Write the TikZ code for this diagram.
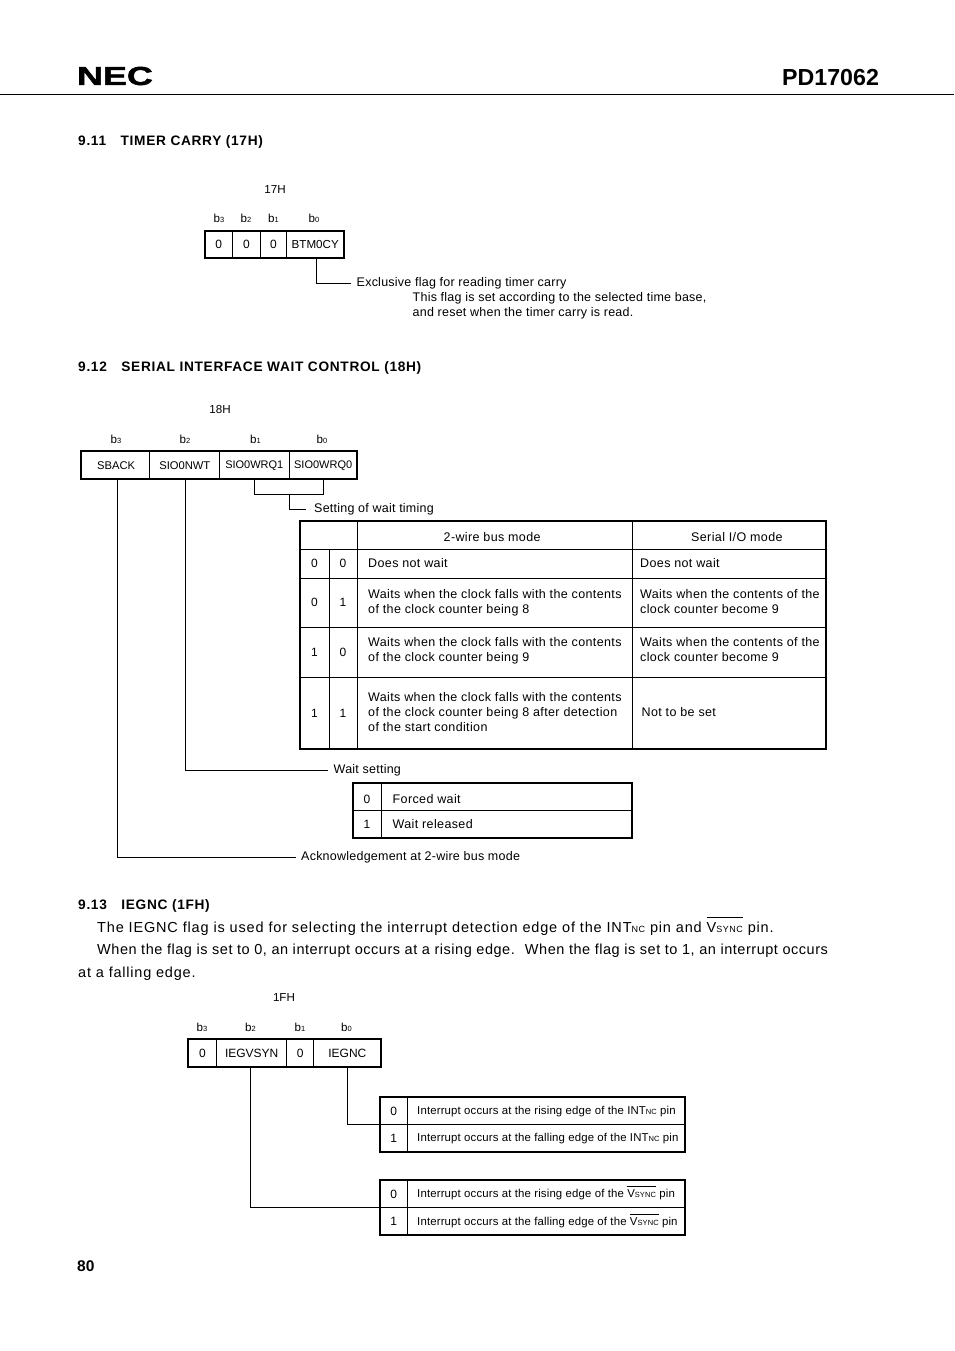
\documentclass[tikz,border=0pt]{standalone}
\usepackage{fontspec}
\setmainfont{Liberation Sans}
\usetikzlibrary{positioning}
\newcommand{\lowtxt}[1]{{\fontsize{7.5}{7.5}\selectfont #1}}
\newcommand{\barred}[2]{$\overline{\mbox{\rule{0pt}{#2}V{\fontsize{#1}{#1}\selectfont SYNC}}}$}
\newcommand{\cellbox}[6][]{\node[cell,#1,minimum width=#4pt-#2pt,minimum height=#5pt-#3pt] (#6) at ({(#2+#4)/2},{(#3+#5)/2})}
\tikzset{
  cell/.style={draw=black,line width=0.8pt,inner sep=0pt,font=\fontsize{12}{15}\selectfont},
  tinyname/.style={font=\fontsize{11}{14}\selectfont},
  midname/.style={font=\fontsize{11.2}{14}\selectfont},
  txt/.style={anchor=west,inner sep=0pt,align=left,font=\fontsize{12.5}{15}\selectfont\addfontfeature{LetterSpace=3}},
  small/.style={anchor=west,inner sep=0pt,text height=9pt,text depth=3pt,font=\fontsize{12.5}{15}\selectfont\addfontfeature{LetterSpace=1.9}},
  irq/.style={anchor=west,inner sep=0pt,text height=9pt,text depth=3pt,font=\fontsize{11.4}{14}\selectfont\addfontfeature{LetterSpace=1.35}},
  bitname/.style={inner sep=0pt,font=\fontsize{11.6}{14}\selectfont},
  head/.style={anchor=west,inner sep=0pt,text height=10pt,text depth=3pt,font=\fontsize{13.7}{15}\selectfont\bfseries\addfontfeature{LetterSpace=5}},
  para/.style={anchor=west,inner sep=0pt,text height=10pt,text depth=3pt,font=\fontsize{14.5}{16}\selectfont\addfontfeature{LetterSpace=5.4}},
  frame/.style={draw=black,line width=2pt},
  wire/.style={draw=black,line width=0.9pt}
}
\begin{document}
\begin{tikzpicture}[x=1pt,y=-1pt]
\useasboundingbox (0,0) rectangle (954,1351);
% page head
\node[inner sep=0pt,xscale=1.38,font=\fontsize{26}{26}\selectfont\bfseries\addfontfeature{FakeBold=1.5}] (logo) at (115,76) {NEC};
\node[anchor=west,inner sep=0pt,font=\fontsize{23.2}{24}\selectfont\bfseries] (part) at (782,77.5) {PD17062};
\coordinate (ruleL) at (0,94.5);
\coordinate (ruleR) at (954,94.5);
\draw[line width=0.9pt] (ruleL) -- (ruleR);
% 9.11
\node[head] (sec1) at (78,142.5) {9.11\hspace{14.5pt}TIMER CARRY (17H)};
\node[bitname] (addr1) at (275,189.5) {17H};
\node[bitname] (b31) at (219,218) {b\lowtxt{3}};
\node[bitname] (b21) at (246,218) {b\lowtxt{2}};
\node[bitname] (b11) at (273.5,218) {b\lowtxt{1}};
\node[bitname] (b01) at (314,218) {b\lowtxt{0}};
\cellbox{205}{231}{232.5}{258}{c13} {0};
\cellbox{232.5}{231}{260.3}{258}{c12} {0};
\cellbox{260.3}{231}{286.5}{258}{c11} {0};
\cellbox[font=\fontsize{11.6}{14}\selectfont]{286.5}{231}{344}{258}{btm} {BTM0CY};
\draw[frame] (c13.north west) rectangle (btm.south east);
\node[small] (exflag) at (356.5,283) {Exclusive flag for reading timer carry};
\node[small] (exline) at (412.5,298.5) {This flag is set according to the selected time base,};
\node[small] (exrst) at (412.5,313.5) {and reset when the timer carry is read.};
\draw[wire] ([xshift=1pt]btm.south) |- ([xshift=-5.5pt]exflag.west);
% 9.12
\node[head] (sec2) at (78,367.5) {9.12\hspace{14.5pt}SERIAL INTERFACE WAIT CONTROL (18H)};
\node[bitname] (addr2) at (220,409.5) {18H};
\node[bitname] (b32) at (116,439) {b\lowtxt{3}};
\node[bitname] (b22) at (185,439) {b\lowtxt{2}};
\node[bitname] (b12) at (255.5,439) {b\lowtxt{1}};
\node[bitname] (b02) at (322,439) {b\lowtxt{0}};
\cellbox[midname]{81}{451.5}{149.3}{479}{sback} {\hspace{2pt}SBACK};
\cellbox[midname]{149.3}{451.5}{219.3}{479}{nwt} {\hspace{1pt}SIO0NWT};
\cellbox[tinyname]{219.3}{451.5}{289.3}{479}{wrq1} {SIO0WRQ1};
\cellbox[tinyname]{289.3}{451.5}{357}{479}{wrq0} {SIO0WRQ0};
\draw[frame] (sback.north west) rectangle (wrq0.south east);
\coordinate (wrqmid) at (289.5,494.5);
\draw[wire] (wrq1.south) |- (wrqmid) -| (wrq0.south);
\node[small] (timing) at (314,509) {Setting of wait timing};
\draw[wire] (wrqmid) |- ([xshift=-8pt]timing.west);
% wait timing table
\cellbox{300}{521}{357}{549}{corner} {};
\cellbox{357}{521}{632}{549}{wire2} {};
\cellbox{632}{521}{826}{549}{serial} {};
\foreach \rowname/\ytop/\ybot/\bita/\bitb in {p/549/578/0/0,q/578/627/0/1,r/627/677/1/0,s/677/749/1/1} {
  \cellbox{300}{\ytop}{329}{\ybot}{\rowname a} {\bita};
  \cellbox{329}{\ytop}{357}{\ybot}{\rowname b} {\bitb};
  \cellbox{357}{\ytop}{632}{\ybot}{\rowname c} {};
  \cellbox{632}{\ytop}{826}{\ybot}{\rowname d} {};
}
\draw[frame] (corner.north west) rectangle (sd.south east);
\draw[line width=1.5pt] (corner.south west) -- (serial.south east);
\node[txt] (modeA) at (443.5,537.5) {2-wire bus mode};
\node[txt] (modeB) at (691,537.5) {Serial I/O mode};
\node[txt] (pctxt) at (368,563) {Does not wait};
\node[txt] (pdtxt) at (640,563) {Does not wait};
\node[txt] (qctxt) at (368,603) {Waits when the clock falls with the contents\\of the clock counter being 8};
\node[txt] (qdtxt) at (640,602) {Waits when the contents of the\\clock counter become 9};
\node[txt] (rctxt) at (368,651) {Waits when the clock falls with the contents\\of the clock counter being 9};
\node[txt] (rdtxt) at (640,650) {Waits when the contents of the\\clock counter become 9};
\node[txt] (sctxt) at (368,712.5) {Waits when the clock falls with the contents\\of the clock counter being 8 after detection\\of the start condition};
\node[txt] (sdtxt) at (641.5,712) {Not to be set};
% wait setting
\node[small] (waitset) at (333.5,770) {Wait setting};
\draw[wire] ([xshift=1.5pt]nwt.south) |- ([xshift=-5.5pt]waitset.west);
\cellbox{353}{783}{381}{810.5}{w0} {};
\cellbox{381}{783}{632}{810.5}{w0t} {};
\cellbox{353}{810.5}{381}{838}{w1} {1};
\cellbox{381}{810.5}{632}{838}{w1t} {};
\draw[frame] (w0.north west) rectangle (w1t.south east);
\node[bitname,font=\fontsize{12}{15}\selectfont] (w0bit) at (367,799.5) {0};
\node[txt] (forced) at (392.5,799.5) {Forced wait};
\node[txt] (released) at (392.5,824) {Wait released};
\node[small] (ack) at (301,857) {Acknowledgement at 2-wire bus mode};
\draw[wire] ([xshift=2.4pt]sback.south) |- ([xshift=-5pt]ack.west);
% 9.13
\node[head] (sec3) at (78,905.5) {9.13\hspace{14.5pt}IEGNC (1FH)};
\node[para,font=\fontsize{14.5}{16}\selectfont\addfontfeature{LetterSpace=5.75}] (par1) at (97,928.5) {The IEGNC flag is used for selecting the interrupt detection edge of the INT{\fontsize{9}{9}\selectfont NC} pin and \barred{9}{0.95em} pin.};
\node[para,font=\fontsize{14.5}{16}\selectfont\addfontfeature{LetterSpace=3.7}] (par2) at (97,951) {When the flag is set to 0, an interrupt occurs at a rising edge.\hspace{4pt} When the flag is set to 1, an interrupt occurs};
\node[para] (par3) at (78,973.5) {at a falling edge.};
\node[bitname] (addr3) at (284,997.5) {1FH};
\node[bitname] (b33) at (202,1027) {b\lowtxt{3}};
\node[bitname] (b23) at (250.5,1027) {b\lowtxt{2}};
\node[bitname] (b13) at (300,1027) {b\lowtxt{1}};
\node[bitname] (b03) at (346.5,1027) {b\lowtxt{0}};
\cellbox{188}{1039.5}{216.7}{1067}{ie3} {0};
\cellbox{216.7}{1039.5}{286.7}{1067}{iegv} {IEGVSYN\hspace{3pt}};
\cellbox{286.7}{1039.5}{313.7}{1067}{ie1} {0};
\cellbox{313.7}{1039.5}{381}{1067}{iegn} {IEGNC};
\draw[frame] (ie3.north west) rectangle (iegn.south east);
\cellbox{380}{1097.5}{407.3}{1124.5}{n0} {0};
\cellbox{407.3}{1097.5}{685}{1124.5}{n0t} {};
\cellbox{380}{1124.5}{407.3}{1151.5}{n1} {1};
\cellbox{407.3}{1124.5}{685}{1151.5}{n1t} {};
\draw[frame] (n0.north west) rectangle (n1t.south east);
\cellbox{380}{1180.5}{407.3}{1207.5}{v0} {0};
\cellbox{407.3}{1180.5}{685}{1207.5}{v0t} {};
\cellbox{380}{1207.5}{407.3}{1235}{v1} {1};
\cellbox{407.3}{1207.5}{685}{1235}{v1t} {};
\draw[frame] (v0.north west) rectangle (v1t.south east);
\node[irq] (n0txt) at (417,1111.5) {Interrupt occurs at the rising edge of the INT\lowtxt{NC} pin};
\node[irq] (n1txt) at (417,1138.5) {Interrupt occurs at the falling edge of the INT\lowtxt{NC} pin};
\node[irq] (v0txt) at (417,1194.5) {Interrupt occurs at the rising edge of the \barred{7.5}{0.9em} pin};
\node[irq] (v1txt) at (417,1222.5) {Interrupt occurs at the falling edge of the \barred{7.5}{0.9em} pin};
\draw[wire] (iegn.south) |- (n0.south west);
\draw[wire] ([xshift=-1.4pt]iegv.south) |- (v0.south west);
\node[head,font=\fontsize{15.5}{16}\selectfont\bfseries] (pageno) at (77,1268) {80};
\end{tikzpicture}
\end{document}
